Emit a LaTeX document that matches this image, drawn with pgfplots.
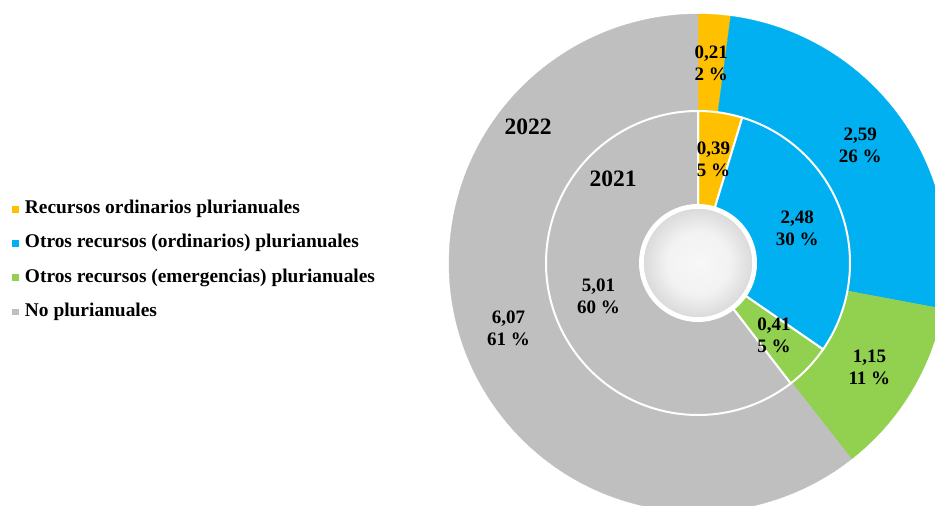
\documentclass[border=0pt]{standalone}
\usepackage{fontspec}
\setmainfont{Liberation Serif}
\usepackage{pgfplots}
\pgfplotsset{compat=1.18}
\usepackage{pgfplotstable}

\definecolor{cOrange}{HTML}{FFC000}
\definecolor{cBlue}{HTML}{00B0F0}
\definecolor{cGreen}{HTML}{92D050}
\definecolor{cGray}{HTML}{BFBFBF}

\pgfkeys{/pgf/number format/assume math mode=true}
\pgfdeclareradialshading{hueco}{\pgfpoint{0bp}{0bp}}{color(0bp)=(white!97!black); color(14bp)=(white!95!black); color(25bp)=(white!85!black); color(50bp)=(white!85!black)}

% valores (miles de millones) por anio
\pgfplotstableread{
serie v2021 v2022 color
1 0.39 0.21 cOrange
2 2.48 2.59 cBlue
3 0.41 1.15 cGreen
4 5.01 6.07 cGray
}\datos

% centro y radios (en px del lienzo 935x506)
\def\cx{698}\def\cy{243}

\tikzset{etiq/.style={align=center, font=\fontsize{19}{22}\selectfont\bfseries, text=black}}

% #1 columna, #2 radio int., #3 radio ext., #4 estilo, #5 1=sectores, 2=etiquetas
\newcommand{\anillo}[5]{%
  \pgfmathsetmacro\tot{0}%
  \pgfplotsforeachungrouped \idx in {0,...,3}{%
    \pgfplotstablegetelem{\idx}{#1}\of\datos
    \pgfmathsetmacro\tot{\tot+\pgfplotsretval}}%
  \def\acum{0}%
  \pgfplotsforeachungrouped \idx in {0,...,3}{%
    \pgfplotstablegetelem{\idx}{#1}\of\datos \let\val\pgfplotsretval
    \pgfplotstablegetelem{\idx}{color}\of\datos \let\col\pgfplotsretval
    \pgfmathsetmacro\aA{90-360*\acum/\tot}%
    \pgfmathsetmacro\aB{90-360*(\acum+\val)/\tot}%
    \ifnum#5=1
      \edef\temp{\noexpand\path[fill=\col,#4] ([shift={(\aA:#3pt)}]C) arc[start angle=\aA,end angle=\aB,radius=#3pt] -- ([shift={(\aB:#2pt)}]C) arc[start angle=\aB,end angle=\aA,radius=#2pt] -- cycle;}%
    \else
      \pgfmathsetmacro\lx{\cx+(#2+#3)/2*cos((\aA+\aB)/2)}%
      \pgfmathsetmacro\ly{\cy+(#2+#3)/2*sin((\aA+\aB)/2)}%
      \pgfmathsetmacro\pct{round(100*\val/\tot)}%
      \edef\temp{\noexpand\node[etiq] at (axis cs:\lx,\ly) {\noexpand\pgfmathprintnumber[use comma,fixed,fixed zerofill,precision=2]{\val}\noexpand\\\noexpand\pgfmathprintnumber[fixed,precision=0]{\pct} \noexpand\%};}%
    \fi
    \temp
    \pgfmathsetmacro\acum{\acum+\val}}%
}

\begin{document}
\begin{tikzpicture}
\useasboundingbox (0,0) rectangle (935pt,506pt);
\begin{axis}[
  scale only axis,
  width=935pt, height=506pt,
  xmin=0, xmax=935, ymin=0, ymax=506,
  hide axis,
  legend cell align=left,
  legend image code/.code={\fill (0pt,-3.4pt) rectangle (6.8pt,3.4pt);},
  legend style={at={(0.0128,0.485)}, anchor=west, draw=none, fill=none,
    inner sep=0pt, font=\fontsize{19.4}{22}\selectfont\bfseries,
    row sep=15.3pt, column sep=5pt,
    nodes={inner sep=1pt, text height=13pt, text depth=4pt}},
]
  \addlegendimage{fill=cOrange, draw=none}
  \addlegendimage{fill=cBlue, draw=none}
  \addlegendimage{fill=cGreen, draw=none}
  \addlegendimage{fill=cGray, draw=none}
  \legend{Recursos ordinarios plurianuales,
    Otros recursos (ordinarios) plurianuales,
    Otros recursos (emergencias) plurianuales,
    No plurianuales}

  \coordinate (C) at (axis cs:\cx,\cy);
  % 2022 (anillo exterior)
  \anillo{v2022}{152}{249}{draw=\col, line width=0.3pt}{1}
  % 2021 (anillo interior)
  \anillo{v2021}{58}{152}{draw=white, line width=2pt}{1}
  % hueco central
  \path[shading=hueco, draw=white, line width=3.5pt] (C) circle[radius=56pt];
  \anillo{v2022}{152}{249}{}{2}
  \anillo{v2021}{58}{152}{}{2}

  \node[font=\fontsize{23.5}{28}\selectfont\bfseries] at (axis cs:528,379) {2022};
  \node[font=\fontsize{23.5}{28}\selectfont\bfseries] at (axis cs:613,327) {2021};
\end{axis}
\end{tikzpicture}
\end{document}
